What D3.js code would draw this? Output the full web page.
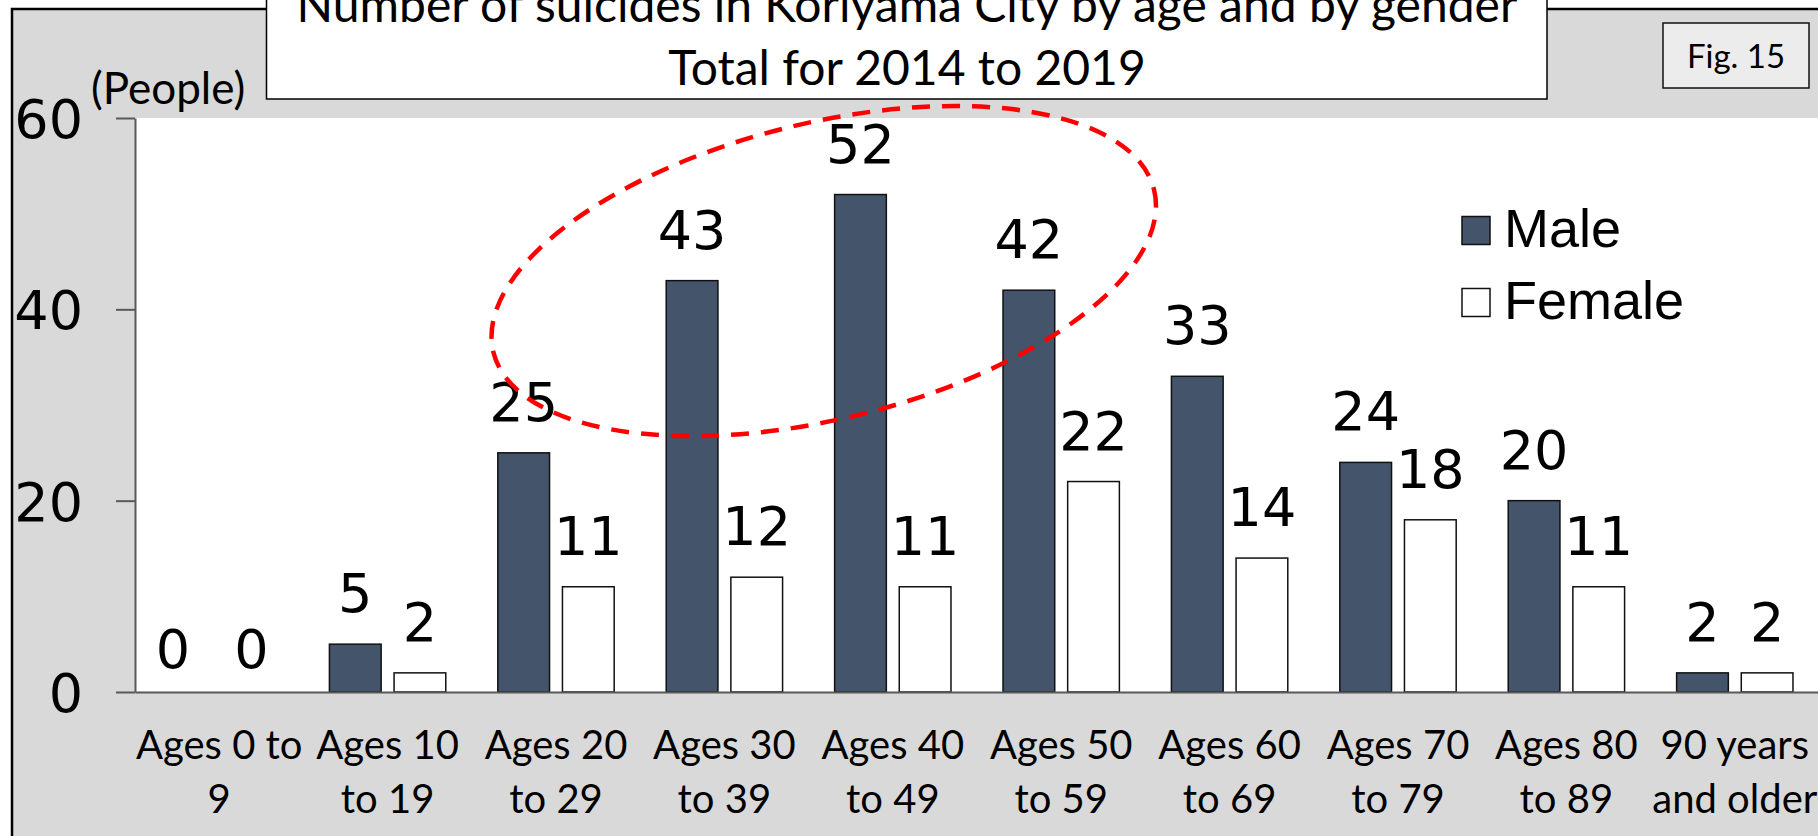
<!DOCTYPE html>
<html>
<head>
<meta charset="utf-8">
<script src="https://cdn.jsdelivr.net/npm/d3@7"></script>
<style>
  html, body { margin: 0; padding: 0; background: #ffffff; overflow: hidden; }
  svg { display: block; }
</style>
</head>
<body>
<svg id="chart" width="1818" height="836"></svg>
<script>
// ---- data ----
const categories = ["Ages 0 to\n9", "Ages 10\nto 19", "Ages 20\nto 29", "Ages 30\nto 39", "Ages 40\nto 49",
                    "Ages 50\nto 59", "Ages 60\nto 69", "Ages 70\nto 79", "Ages 80\nto 89", "90 years\nand older"];
const seriesNames = ["Male", "Female"];
const maleValues = [0, 5, 25, 43, 52, 42, 33, 24, 20, 2];
const femaleValues = [0, 2, 11, 12, 11, 22, 14, 18, 11, 2];
const yTickValues = [0, 20, 40, 60];
const titleLines = ["Number of suicides in Koriyama City by age and by gender", "Total for 2014 to 2019"];
const yUnitLabel = "(People)";
const figLabel = "Fig. 15";

const seriesColors = { Male: "#44546a", Female: "#ffffff" };
const CAL = "Lato, 'Open Sans', sans-serif";
const DEJ = "'DejaVu Sans', Verdana, sans-serif";
const ARI = "'Liberation Sans', Arial, sans-serif";

const svg = d3.select("#chart");
const W = 1818, H = 836;

// ---- layout ----
const plotLeft = 135, plotTop = 118, plotBottom = 692, step = 168.4;
const plotRight = plotLeft + step * categories.length;

// background frame
svg.append("rect").attr("x", 12).attr("y", 9).attr("width", W + 20).attr("height", H + 20)
  .attr("fill", "#d9d9d9").attr("stroke", "#000").attr("stroke-width", 2.5);

// plot area
svg.append("rect").attr("x", plotLeft).attr("y", plotTop)
  .attr("width", plotRight - plotLeft).attr("height", plotBottom - plotTop)
  .attr("fill", "#ffffff");

// scales
const x0 = d3.scaleBand().domain(categories).range([plotLeft, plotRight])
  .paddingInner(0.309).paddingOuter(0.1545);
const x1 = d3.scaleBand().domain(seriesNames).range([0, x0.bandwidth()]).paddingInner(0.2);
const y = d3.scaleLinear().domain([0, 60]).range([plotBottom, plotTop]);

const rows = categories.map((c, i) => ({ cat: c, Male: maleValues[i], Female: femaleValues[i] }));

// bars
const groups = svg.append("g").selectAll("g").data(rows).join("g")
  .attr("transform", d => `translate(${x0(d.cat)},0)`);
groups.selectAll("rect").data(d => seriesNames.map(s => ({ s, v: d[s] }))).join("rect")
  .attr("x", d => x1(d.s)).attr("width", x1.bandwidth())
  .attr("y", d => y(d.v)).attr("height", d => y(0) - y(d.v))
  .attr("fill", d => seriesColors[d.s])
  .attr("stroke", "#111").attr("stroke-width", 1.5)
  .attr("display", d => d.v > 0 ? null : "none");

// data labels
groups.selectAll("text").data(d => seriesNames.map(s => ({ s, v: d[s] }))).join("text")
  .attr("x", d => x1(d.s) + x1.bandwidth() / 2 + (d.v === 0 && d.s === "Male" ? -14 : 0))
  .attr("y", d => y(d.v) - (d.v > 0 ? 32 : 24))
  .attr("text-anchor", "middle")
  .attr("font-family", DEJ).attr("font-size", 54).attr("fill", "#000")
  .text(d => d.v);

// y axis
const yAxis = svg.append("g").attr("transform", `translate(${plotLeft},0)`)
  .call(d3.axisLeft(y).tickValues(yTickValues).tickSize(19).tickSizeOuter(0).tickPadding(33));
yAxis.select(".domain").attr("stroke", "#595959").attr("stroke-width", 2);
yAxis.selectAll(".tick line").attr("stroke", "#595959").attr("stroke-width", 2);
yAxis.selectAll(".tick text").attr("font-family", DEJ).attr("font-size", 54).attr("fill", "#000").attr("dy", "0.36em");

// x axis
const xAxis = svg.append("g").attr("transform", `translate(0,${plotBottom})`)
  .call(d3.axisBottom(x0).tickSize(0).tickSizeOuter(0).tickPadding(0));
xAxis.select(".domain").attr("stroke", "#595959").attr("stroke-width", 2);
xAxis.selectAll(".tick text").each(function(d) {
  const t = d3.select(this);
  const lines = d.split("\n");
  t.text(null).attr("y", 0).attr("dy", null)
    .attr("font-family", CAL).attr("font-size", 40).attr("fill", "#000");
  lines.forEach((ln, i) => {
    t.append("tspan").attr("x", 0).attr("y", 67 + i * 54).text(ln);
  });
});

// highlight ellipse (annotation)
const ell = { cx: plotLeft + 4.09 * step, cy: y(44), rx: 2.02 * step, ry: 148, rot: -13.8 };
svg.append("ellipse")
  .attr("cx", 0).attr("cy", 0).attr("rx", ell.rx).attr("ry", ell.ry)
  .attr("transform", `translate(${ell.cx},${ell.cy}) rotate(${ell.rot})`)
  .attr("fill", "none").attr("stroke", "#ff0000").attr("stroke-width", 4.5)
  .attr("stroke-dasharray", "18,12");

// legend
const legend = svg.append("g");
seriesNames.forEach((s, i) => {
  legend.append("rect").attr("x", 1462).attr("y", 216.5 + i * 72).attr("width", 28).attr("height", 28)
    .attr("fill", seriesColors[s]).attr("stroke", "#111").attr("stroke-width", 1.5);
  legend.append("text").attr("x", 1504).attr("y", 247 + i * 71.5)
    .attr("font-family", ARI).attr("font-size", 54).attr("fill", "#000").text(s);
});

// y unit label
svg.append("text").attr("x", 91).attr("y", 104)
  .attr("font-family", CAL).attr("font-size", 44).attr("fill", "#000").text(yUnitLabel);

// title box
svg.append("rect").attr("x", 266.5).attr("y", -60).attr("width", 1547 - 266.5).attr("height", 159)
  .attr("fill", "#ffffff").attr("stroke", "#000").attr("stroke-width", 1.5);
titleLines.forEach((ln, i) => {
  svg.append("text").attr("x", 907).attr("y", 22 + i * 63).attr("text-anchor", "middle")
    .attr("font-family", CAL).attr("font-size", 48).attr("fill", "#000").text(ln);
});

// figure number box
svg.append("rect").attr("x", 1663).attr("y", 23).attr("width", 146).attr("height", 65)
  .attr("fill", "#ececec").attr("stroke", "#111").attr("stroke-width", 1.5);
svg.append("text").attr("x", 1736).attr("y", 68).attr("text-anchor", "middle")
  .attr("font-family", CAL).attr("font-size", 33).attr("fill", "#000").text(figLabel);
</script>
</body>
</html>
